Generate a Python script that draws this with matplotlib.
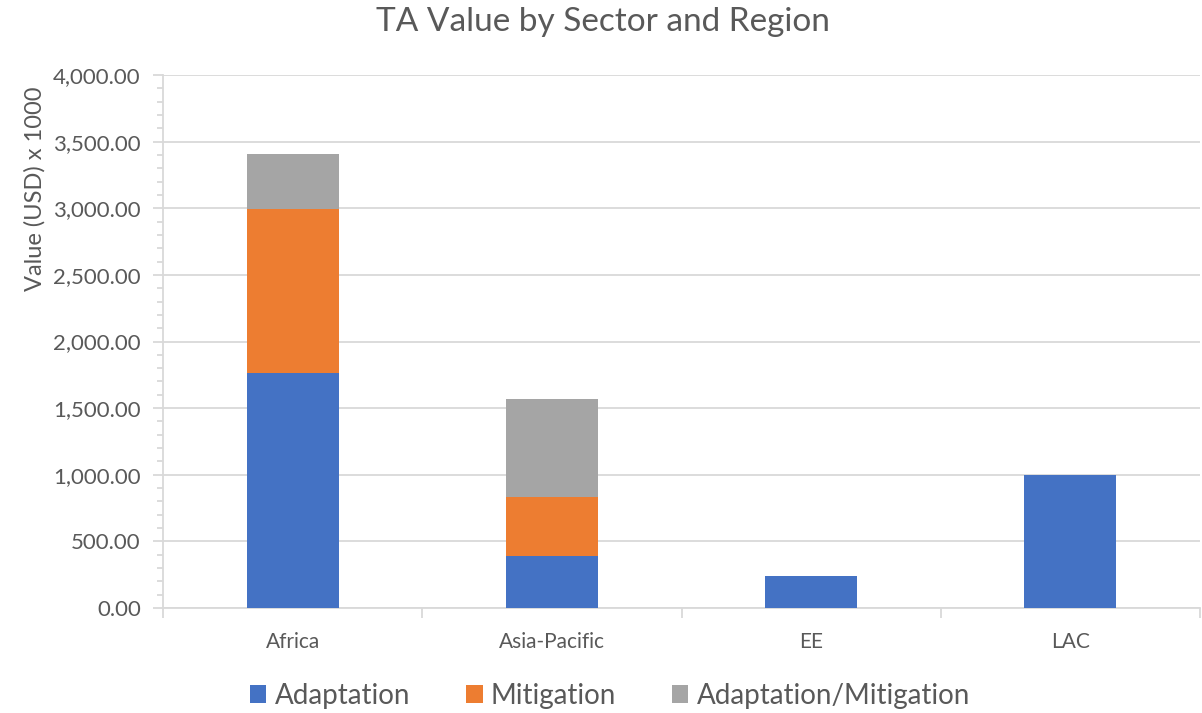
import matplotlib
matplotlib.use("Agg")
import matplotlib.pyplot as plt
from matplotlib.ticker import MultipleLocator, FuncFormatter, FixedLocator
from matplotlib.patches import Patch
import numpy as np

plt.rcParams['font.family'] = ['Lato', 'DejaVu Sans']

regions = ["Africa", "Asia-Pacific", "EE", "LAC"]
series_names = ["Adaptation", "Mitigation", "Adaptation/Mitigation"]
adaptation = [1765, 390, 240, 1000]
mitigation = [1230, 443, 0, 0]
adapt_mitig = [410, 735, 0, 0]
colors = ["#4472C4", "#ED7D31", "#A5A5A5"]

text_c = "#595959"
grid_c = "#D9D9D9"

fig = plt.figure(figsize=(12.02, 7.13), dpi=100)
ax = fig.add_axes([163/1202, 1-608/713, (1200-163)/1202, (608-75)/713])

x = np.arange(len(regions))
w = 0.355
bottom = np.zeros(len(regions))
for vals, c, name in zip([adaptation, mitigation, adapt_mitig], colors, series_names):
    v = np.array(vals, dtype=float)
    ax.bar(x, v, w, bottom=bottom, color=c, label=name, zorder=3)
    bottom += v

ax.set_xlim(-0.5, len(regions) - 0.5)
ax.set_ylim(0, 4000)
ax.yaxis.set_major_locator(MultipleLocator(500))
ax.yaxis.set_minor_locator(MultipleLocator(100))
ax.yaxis.set_major_formatter(FuncFormatter(lambda v, p: f"{v:,.2f}"))
ax.grid(axis='y', which='major', color=grid_c, linewidth=1.3, zorder=0)
ax.tick_params(axis='y', which='major', length=7, color=grid_c, width=1.3,
               labelsize=16, labelcolor=text_c, pad=9)
ax.tick_params(axis='y', which='minor', length=4, color=grid_c, width=1.3)

ax.set_xticks(x)
ax.set_xticklabels(regions)
ax.tick_params(axis='x', which='major', length=0, labelsize=15, labelcolor=text_c, pad=17)
ax.xaxis.set_minor_locator(FixedLocator(np.arange(-0.5, len(regions), 1.0)))
ax.tick_params(axis='x', which='minor', length=7, color=grid_c, width=1.3)

for s in ['top', 'right']:
    ax.spines[s].set_visible(False)
ax.spines['left'].set_color(grid_c)
ax.spines['left'].set_linewidth(1.3)
ax.spines['bottom'].set_color(grid_c)
ax.spines['bottom'].set_linewidth(1.3)

ax.set_ylabel("Value (USD) x 1000", fontsize=17, color=text_c)
ax.yaxis.set_label_coords((46-163)/1037, (608-189)/533)
fig.text(603/1202, 1-22/713, "TA Value by Sector and Region", ha='center', va='center',
         fontsize=24, color=text_c)

handles = [Patch(facecolor=c, label=n) for c, n in zip(colors, series_names)]
fig.legend(handles=handles, loc='center', bbox_to_anchor=(610/1202, 1-696/713), ncol=3,
           frameon=False, fontsize=20, labelcolor=text_c, handlelength=0.6, handleheight=0.6,
           handletextpad=0.3, columnspacing=2.0)

fig.savefig("out.png", dpi=100)
